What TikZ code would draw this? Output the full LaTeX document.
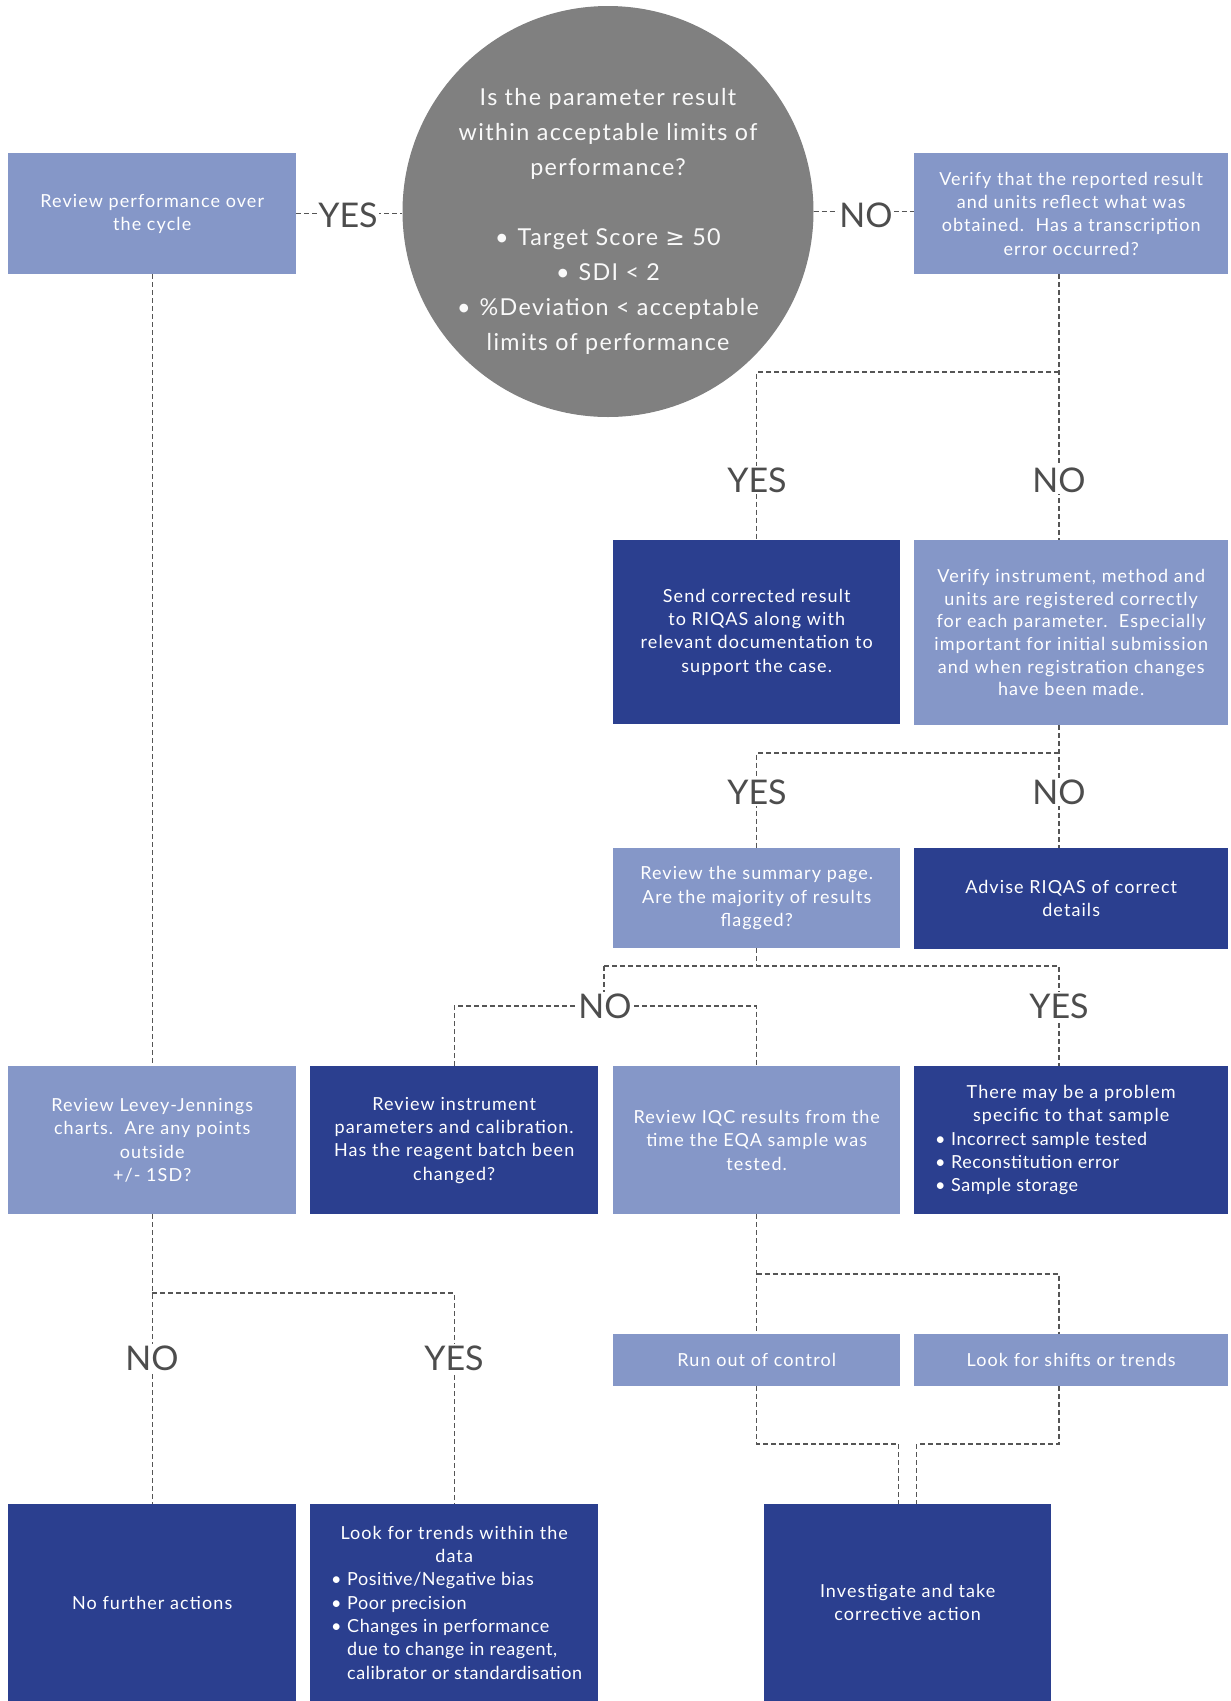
\documentclass[tikz,border=0pt]{standalone}
\usepackage{fontspec}
\setmainfont{Lato}
\newfontfamily\boxfont{Lato}[LetterSpace=6]
\newfontfamily\itemfont{Lato}[LetterSpace=3]
\newfontfamily\symfont{DejaVu Sans}
\definecolor{lightbox}{HTML}{8597C8}
\definecolor{darkbox}{HTML}{2B3F8F}
\definecolor{circgray}{HTML}{808080}
\definecolor{labgray}{HTML}{4D4D4D}
\definecolor{linegray}{HTML}{555555}
\newcommand{\bul}{\makebox[16pt][l]{\textbullet}}
\newcommand{\cbul}{\textbullet\hspace{9pt}}
\begin{document}
\begin{tikzpicture}[x=1pt,y=-1pt,
  boxbase/.style={rectangle, anchor=north west, inner sep=0pt, text=white, align=center,
    font={\boxfont\fontsize{18pt}{23.3pt}\selectfont}},
  lightb/.style={boxbase, fill=lightbox},
  darkb/.style={boxbase, fill=darkbox},
  conn/.style={draw=linegray, line width=1.2pt, dash pattern=on 5pt off 3pt},
  lab/.style={fill=white, inner sep=1.5pt, text=labgray, font={\fontsize{34pt}{36pt}\selectfont}}
]
\useasboundingbox (0,0) rectangle (1231,1701);

% main question
\node[circle, fill=circgray, minimum size=411pt, inner sep=0pt] (circ) at (608,211.5) {};
\node[text=white!95!gray, align=center, font={\boxfont\fontsize{23.3pt}{35pt}\selectfont}] (qtext) at (608,221)
 {Is the parameter result\\within acceptable limits of\\performance?\\[35pt]
  \cbul Target Score {\symfont ≥} 50\\\cbul SDI < 2\\\cbul \%Deviation < acceptable\\limits of performance};

% boxes
\node[lightb, minimum width=288pt, minimum height=121pt] (rp) at (8,153) {Review performance over\\the cycle};
\node[lightb, minimum width=314pt, minimum height=121pt] (ver) at (914,153) {Verify that the reported result\\and units reflect what was\\obtained.\ \ Has a transcription\\error occurred?};
\node[darkb, minimum width=287pt, minimum height=184pt] (send) at (613,540) {Send corrected result\\to RIQAS along with\\relevant documentation to\\support the case.};
\node[lightb, minimum width=314pt, minimum height=185pt, font={\boxfont\fontsize{18pt}{22.6pt}\selectfont}] (vinst) at (914,540) {Verify instrument, method and\\units are registered correctly\\for each parameter.\ \ Especially\\important for initial submission\\and when registration changes\\have been made.};
\node[lightb, minimum width=287pt, minimum height=100pt] (summ) at (613,848) {Review the summary page.\\Are the majority of results\\flagged?};
\node[darkb, minimum width=314pt, minimum height=101pt] (adv) at (914,848) {Advise RIQAS of correct\\details};
\node[lightb, minimum width=288pt, minimum height=148pt] (lj) at (8,1066) {Review Levey-Jennings\\charts.\ \ Are any points\\outside\\+/- 1SD?};
\node[darkb, minimum width=288pt, minimum height=148pt] (rinst) at (310,1066) {Review instrument\\parameters and calibration.\\Has the reagent batch been\\changed?};
\node[lightb, minimum width=287pt, minimum height=148pt] (iqc) at (613,1066) {Review IQC results from the\\time the EQA sample was\\tested.};
\node[darkb, minimum width=314pt, minimum height=148pt] (prob) at (914,1066)
 {\begin{minipage}{314pt}\centering There may be a problem\\specific to that sample\par
  \raggedright\leftskip=21pt\itemfont
  \bul Incorrect sample tested\par
  \bul Reconstitution error\par
  \bul Sample storage\par\end{minipage}};
\node[lightb, minimum width=287pt, minimum height=52pt] (run) at (613,1334) {Run out of control};
\node[lightb, minimum width=314pt, minimum height=52pt] (shift) at (914,1334) {Look for shifts or trends};
\node[darkb, minimum width=288pt, minimum height=197pt] (nfa) at (8,1504) {No further actions};
\node[darkb, minimum width=288pt, minimum height=197pt] (trend) at (310,1504)
 {\begin{minipage}{288pt}\centering Look for trends within the\\data\par
  \raggedright\leftskip=21pt\itemfont
  \bul Positive/Negative bias\par
  \bul Poor precision\par
  \hangindent=16pt\hangafter=1 \bul Changes in performance\newline due to change in reagent,\newline calibrator or standardisation\par\end{minipage}};
\node[darkb, minimum width=287pt, minimum height=197pt] (inv) at (764,1504) {Investigate and take\\corrective action};

% helper coordinates
\coordinate (c4x) at (1059,0);
\coordinate (j1) at (0,372);
\coordinate (j2) at (0,753);
\coordinate (j3) at (604,966);
\coordinate (j4) at (0,1293);
\coordinate (j5) at (0,1274);
\coordinate (j6) at (0,1444);

% connectors
\draw[conn] (rp.east) -- (rp.east -| circ.west);
\draw[conn] (circ.east) -- (circ.east -| ver.west);
\draw[conn] (rp.south) -- (lj.north);

\draw[conn] (c4x |- ver.south) -- (c4x |- vinst.north);
\draw[conn] (c4x |- j1) -| (send.north);

\draw[conn] (c4x |- vinst.south) -- (c4x |- adv.north);
\draw[conn] (c4x |- j2) -| (summ.north);

\draw[conn] (summ.south) -- (summ.south |- j3);
\draw[conn] (j3) -- (c4x |- j3) -- (c4x |- prob.north);
\node[coordinate] (no3c) at (604,1006) {};
\draw[conn] (j3) -- (no3c);
\draw[conn] (rinst.north) |- (no3c) -| (iqc.north);

\draw[conn] (lj.south) -- (nfa.north);
\draw[conn] (lj.south |- j4) -| (trend.north);

\draw[conn] (iqc.south) -- (run.north);
\draw[conn] (iqc.south |- j5) -| (c4x |- shift.north);

\draw[conn] (run.south) -- (run.south |- j6) -| ([xshift=-9pt]inv.north);
\draw[conn] (c4x |- shift.south) -- (c4x |- j6) -| ([xshift=9pt]inv.north);

% labels
\node[lab] (yes0) at (348,215) {YES};
\node[lab] (no0) at (866,215) {NO};
\node[lab] (yes1) at (757,480) {YES};
\node[lab] (no1) at (1059,480) {NO};
\node[lab] (yes2) at (757,792) {YES};
\node[lab] (no2) at (1059,792) {NO};
\node[lab] (no3) at (605,1006) {NO};
\node[lab] (yes3) at (1059,1006) {YES};
\node[lab] (no4) at (152,1358) {NO};
\node[lab] (yes4) at (454,1358) {YES};
\end{tikzpicture}
\end{document}
